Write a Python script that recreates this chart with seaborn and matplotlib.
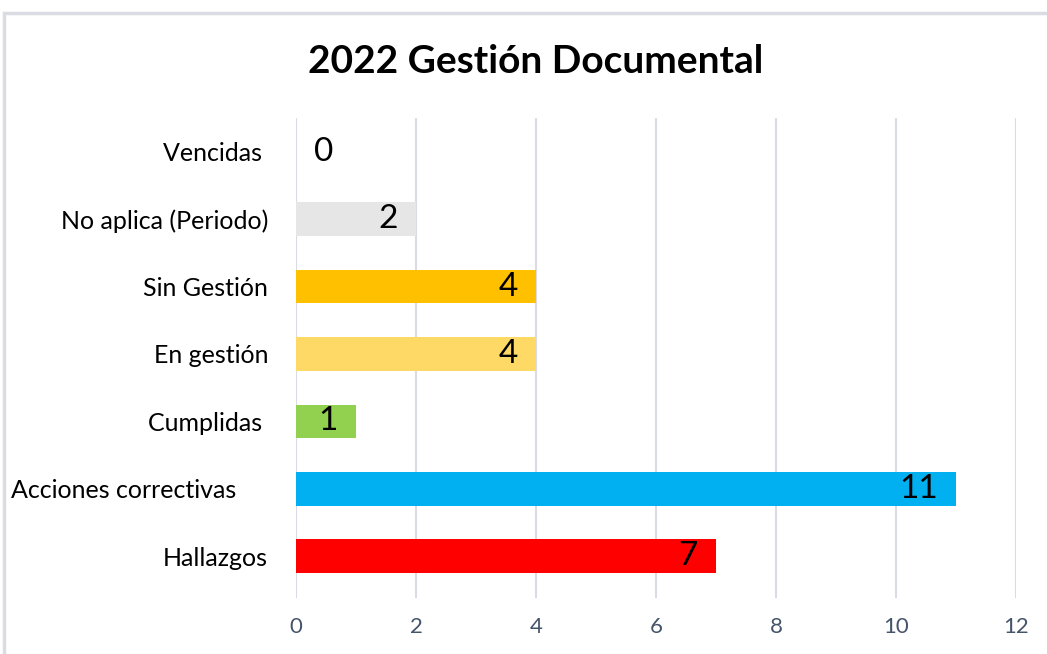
import matplotlib
matplotlib.use("Agg")
import matplotlib.pyplot as plt
import seaborn as sns
import pandas as pd
from matplotlib.patches import Rectangle

categorias = ["Vencidas ", "No aplica (Periodo)", "Sin Gestión", "En gestión",
              "Cumplidas ", "Acciones correctivas     ", "Hallazgos"]
valores = [0, 2, 4, 4, 1, 11, 7]
colores = ["#FFFFFF", "#E7E6E6", "#FFC000", "#FFD966", "#92D050", "#00B0F0", "#FF0000"]
ticks_x = [0, 2, 4, 6, 8, 10, 12]

df = pd.DataFrame({"cat": categorias, "val": valores})

sns.set_style("white")
plt.rcParams['font.family'] = ['Lato', 'DejaVu Sans']
plt.rcParams['text.color'] = 'black'

fig = plt.figure(figsize=(10.47, 6.54), dpi=100)
ax = fig.add_axes([0.2827, 0.0856, 0.6877, 0.734])

# marco gris del grafico
fig.patches.append(Rectangle((0.004, -0.05), 1.2, 1.03, transform=fig.transFigure,
                             fill=False, edgecolor="#D9DCE3", linewidth=2.5))

sns.barplot(data=df, y="cat", x="val", hue="cat", palette=dict(zip(categorias, colores)),
            legend=False, orient="h", width=0.5, saturation=1, linewidth=0,
            ax=ax, zorder=3)

ax.set_xlim(0, 12)
ax.set_ylim(6.62, -0.5)
ax.set_xticks(ticks_x)
ax.set_xticklabels([str(t) for t in ticks_x], fontsize=16, color="#44546A")
ax.tick_params(axis="x", length=0, pad=14)
ax.tick_params(axis="y", length=0, pad=20, labelsize=18)
for lbl in ax.get_yticklabels():
    lbl.set_color("#000000")
ax.set_xlabel("")
ax.set_ylabel("")
ax.grid(axis="x", color="#D9DCE3", linewidth=1.5, zorder=0)
for s in ax.spines.values():
    s.set_visible(False)

# etiquetas de datos
for i, v in enumerate(valores):
    if v == 0:
        ax.annotate(str(v), (v, i), xytext=(13, 0), textcoords="offset points",
                    ha="left", va="center", fontsize=24, color="black")
    else:
        ax.annotate(str(v), (v, i), xytext=(-13, 0), textcoords="offset points",
                    ha="right", va="center", fontsize=24, color="black")

fig.text(0.512, 0.906, "2022 Gestión Documental", ha="center", va="center",
         fontsize=28, fontweight="bold", color="black")

fig.savefig("out.png", dpi=100)
